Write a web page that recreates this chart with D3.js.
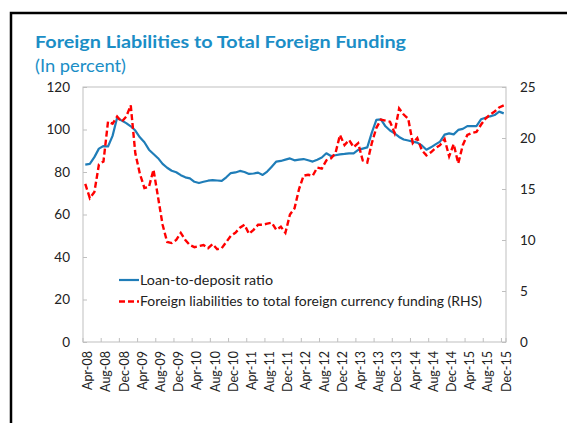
<!DOCTYPE html>
<html>
<head>
<meta charset="utf-8">
<script src="https://cdn.jsdelivr.net/npm/d3@7"></script>
<style>
  html, body { margin: 0; padding: 0; background: #fff; }
  svg { display: block; }
  text { font-family: Lato, "Open Sans", sans-serif; }
</style>
</head>
<body>
<svg id="chart" width="567" height="423"></svg>
<script>
// ---- data ----
const monthNames = ["Jan","Feb","Mar","Apr","May","Jun","Jul","Aug","Sep","Oct","Nov","Dec"];
const categories = [];
for (let y = 2008, m = 3; y < 2016; ) {
  categories.push(monthNames[m] + "-" + String(y).slice(2));
  m++; if (m === 12) { m = 0; y++; }
}
const tickLabels = ["Apr-08","Aug-08","Dec-08","Apr-09","Aug-09","Dec-09","Apr-10","Aug-10","Dec-10",
  "Apr-11","Aug-11","Dec-11","Apr-12","Aug-12","Dec-12","Apr-13","Aug-13","Dec-13","Apr-14","Aug-14",
  "Dec-14","Apr-15","Aug-15","Dec-15"];

const loanToDeposit = [
  83.5, 83.8, 87, 91, 92.2, 92, 97, 105.5, 104.2, 103, 101.5, 99.5,
  96.3, 94, 90.5, 88.5, 86.5, 83.8, 82, 80.6, 79.9, 78.5, 77.5, 77,
  75.4, 74.8, 75.4, 75.9, 76.2, 76, 75.8, 77.5, 79.5, 79.8, 80.5, 80,
  79.1, 79.3, 79.7, 78.6, 80.2, 82.5, 84.9, 85.2, 85.8, 86.4, 85.5, 85.8,
  86.1, 85.5, 84.9, 85.8, 86.8, 88.8, 87.5, 87.9, 88.3, 88.5, 88.8, 88.8,
  90.4, 91, 91.6, 98.5, 104.5, 104.8, 101.5, 99.5, 98.2, 96.5, 95.3, 94.8,
  94.3, 93.8, 92.5, 90.5, 91.6, 93, 94.3, 97.6, 98.2, 97.7, 99.8, 100.3,
  101.6, 101.6, 101.6, 104.8, 105.5, 106.2, 106.8, 108.4, 107.6
];
const foreignLiabRatio = [
  15.5, 14.1, 14.7, 17.4, 17.7, 21.6, 21.4, 22.1, 21.6, 22.1, 23.2, 18.5,
  16.5, 15.1, 15.2, 16.9, 14.2, 11.5, 9.8, 9.7, 10.0, 10.7, 10.0, 9.5,
  9.3, 9.4, 9.5, 9.2, 9.6, 9.1, 9.2, 9.8, 10.4, 10.7, 11.2, 11.5,
  10.6, 11.0, 11.5, 11.5, 11.6, 11.7, 11.0, 11.3, 10.7, 12.5, 13.1, 15.0,
  16.3, 16.4, 16.3, 17.1, 17.0, 17.8, 18.0, 18.5, 20.3, 19.3, 19.8, 19.1,
  19.5, 17.8, 17.6, 19.5, 21.0, 21.8, 21.7, 21.6, 20.5, 22.9, 22.3, 21.9,
  19.5, 20.0, 18.8, 18.3, 18.6, 19.0, 19.3, 19.9, 18.2, 19.4, 17.5, 19.3,
  20.3, 20.5, 20.6, 21.3, 21.9, 22.3, 22.6, 23.0, 23.2
];
const leftTicks = [0, 20, 40, 60, 80, 100, 120];
const rightTicks = [0, 5, 10, 15, 20, 25];
const seriesNames = ["Loan-to-deposit ratio", "Foreign liabilities to total foreign currency funding (RHS)"];

// ---- layout ----
const svg = d3.select("#chart");
const L = 83, R = 506, T = 87, B = 342;
const blue = "#1f7db8", red = "#ff0000", titleBlue = "#1b8ec6", gridGray = "#bfbfbf", txt = "#222";

const x = d3.scaleBand().domain(categories).range([L, R]).padding(0);
const yL = d3.scaleLinear().domain([0, 120]).range([B, T]);
const yR = d3.scaleLinear().domain([0, 25]).range([B, T]);
const cx = d => x(d) + x.bandwidth() / 2;

// outer frame
svg.append("rect").attr("x", 11).attr("y", 13).attr("width", 620).attr("height", 520)
  .attr("fill", "none").attr("stroke", "#000").attr("stroke-width", 2.5);

// title
svg.append("text").attr("x", 35).attr("y", 48).attr("fill", titleBlue)
  .attr("font-weight", "bold").attr("font-size", 17.5)
  .attr("textLength", 371).attr("lengthAdjust", "spacingAndGlyphs")
  .text("Foreign Liabilities to Total Foreign Funding");
svg.append("text").attr("x", 35).attr("y", 72).attr("fill", titleBlue)
  .attr("font-size", 16.5).attr("textLength", 91).attr("lengthAdjust", "spacingAndGlyphs")
  .text("(In percent)");

// plot frame
svg.append("rect").attr("x", L).attr("y", T).attr("width", R - L).attr("height", B - T)
  .attr("fill", "none").attr("stroke", gridGray).attr("stroke-width", 1);

// left axis
const gL = svg.append("g").attr("transform", `translate(${L},0)`)
  .call(d3.axisLeft(yL).tickValues(leftTicks).tickSize(-4).tickPadding(13));
gL.select(".domain").remove();
gL.selectAll("line").attr("stroke", gridGray);
gL.selectAll("text").attr("font-size", 13.5).attr("fill", txt).attr("font-family", "Lato, sans-serif");

// right axis
const gR = svg.append("g").attr("transform", `translate(${R},0)`)
  .call(d3.axisRight(yR).tickValues(rightTicks).tickSize(-4).tickPadding(14));
gR.select(".domain").remove();
gR.selectAll("line").attr("stroke", gridGray);
gR.selectAll("text").attr("font-size", 13.5).attr("fill", txt).attr("font-family", "Lato, sans-serif");

// bottom ticks (at band boundaries every 4 months)
svg.append("g").selectAll("line").data(tickLabels).join("line")
  .attr("x1", d => x(d)).attr("x2", d => x(d))
  .attr("y1", B).attr("y2", B - 4)
  .attr("stroke", gridGray);
svg.append("line").attr("x1", R).attr("x2", R).attr("y1", B).attr("y2", B - 4).attr("stroke", gridGray);

// bottom labels
svg.append("g").selectAll("text").data(tickLabels).join("text")
  .attr("transform", d => `translate(${cx(d) + 2.5},351) rotate(-90)`)
  .attr("text-anchor", "end").attr("dy", "0.35em")
  .attr("font-size", 12.5).attr("fill", txt)
  .text(d => d);

// lines
const lineL = d3.line().x((d, i) => cx(categories[i])).y(d => yL(d));
const lineR = d3.line().x((d, i) => cx(categories[i])).y(d => yR(d));

svg.append("path").datum(loanToDeposit).attr("d", lineL)
  .attr("fill", "none").attr("stroke", blue).attr("stroke-width", 2.2)
  .attr("stroke-linejoin", "round");
svg.append("path").datum(foreignLiabRatio).attr("d", lineR)
  .attr("fill", "none").attr("stroke", red).attr("stroke-width", 2.4)
  .attr("stroke-dasharray", "6,3");

// legend
const leg = svg.append("g");
const legRows = [{ name: seriesNames[0], color: blue, dash: null, y: 280 },
                 { name: seriesNames[1], color: red, dash: "6,3", y: 301.5 }];
leg.selectAll("line").data(legRows).join("line")
  .attr("x1", 119).attr("x2", 139).attr("y1", d => d.y).attr("y2", d => d.y)
  .attr("stroke", d => d.color).attr("stroke-width", d => d.dash ? 2.4 : 2.2)
  .attr("stroke-dasharray", d => d.dash);
leg.selectAll("text").data(legRows).join("text")
  .attr("x", 140).attr("y", d => d.y).attr("dy", "0.35em")
  .attr("font-size", 13).attr("fill", txt)
  .attr("textLength", (d, i) => i === 0 ? 133 : 342).attr("lengthAdjust", "spacingAndGlyphs")
  .text(d => d.name);
</script>
</body>
</html>
